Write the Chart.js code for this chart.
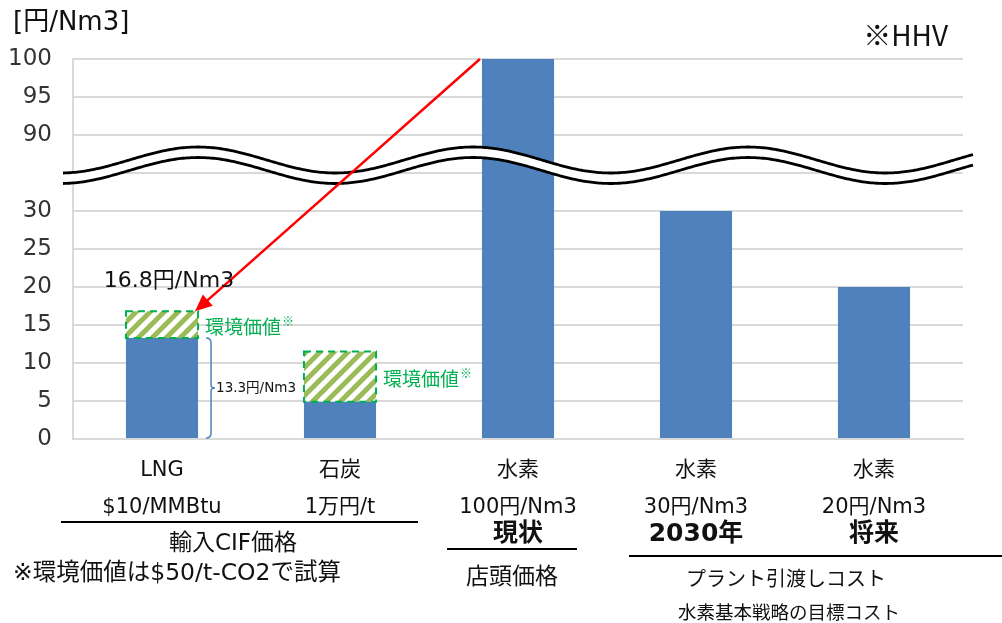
<!DOCTYPE html>
<html>
<head>
<meta charset="utf-8">
<script src="https://cdn.jsdelivr.net/npm/chart.js@4.4.1/dist/chart.umd.min.js"></script>
<style>
  body { margin: 0; background: #fff; }
  #wrap { width: 1002px; height: 623px; }
</style>
</head>
<body>
<div id="wrap"><canvas id="costChart" width="1002" height="623"></canvas></div>
<script>
// data
const categories = ["LNG", "石炭", "水素", "水素", "水素"];
const priceLabels = ["$10/MMBtu", "1万円/t", "100円/Nm3", "30円/Nm3", "20円/Nm3"];
const stageLabels = ["", "", "現状", "2030年", "将来"];
const baseCost = [13.3, 4.9, 100, 30, 20];   // 円/Nm3
const envValue = [3.5, 6.6, 0, 0, 0];        // 環境価値
const yTickStep = 5;

// broken axis: 30..90 is squeezed to two steps
const breakLow = 30, breakHigh = 90, breakGap = 10;
const toAxis = v => v <= breakLow ? v : v >= breakHigh ? v - (breakHigh - breakLow - breakGap) : breakLow + breakGap / 2;
const tickLabel = a => a <= breakLow ? a : a >= breakLow + breakGap ? a + (breakHigh - breakLow - breakGap) : "";

const FONT = '"DejaVu Sans", "Noto Sans CJK JP", sans-serif';
const JP = '"Noto Sans CJK JP", "DejaVu Sans", sans-serif';
const BLUE = "#4f81bd";
const GREEN = "#00b050";

function makeHatch() {
  const c = document.createElement("canvas");
  c.width = c.height = 14;
  const g = c.getContext("2d");
  g.fillStyle = "#fff";
  g.fillRect(0, 0, 14, 14);
  g.strokeStyle = "#9bbb59";
  g.lineWidth = 5;
  g.beginPath();
  g.moveTo(-4, 18); g.lineTo(18, -4);
  g.moveTo(-4, 4); g.lineTo(4, -4);
  g.moveTo(10, 18); g.lineTo(18, 10);
  g.stroke();
  return g.createPattern(c, "repeat");
}

const extras = {
  id: "extras",
  afterDatasetsDraw(chart) {
    const ctx = chart.ctx;
    const area = chart.chartArea;
    const y = chart.scales.y;
    const base = chart.getDatasetMeta(0).data;
    const env = chart.getDatasetMeta(1).data;

    // dashed outline on the env-value boxes
    ctx.save();
    ctx.strokeStyle = GREEN;
    ctx.lineWidth = 2;
    ctx.setLineDash([7, 5]);
    env.forEach((el, i) => {
      if (!envValue[i]) return;
      ctx.strokeRect(el.x - el.width / 2, el.y, el.width, el.base - el.y);
    });
    ctx.restore();

    // axis break wave
    const yc = y.getPixelForValue(breakLow + breakGap / 2);
    const x0 = area.left - 10, x1 = area.right + 10;
    const wave = (x, off) => yc + off - 13 * Math.cos(2 * Math.PI * (x - area.left - 125) / 275);
    ctx.save();
    ctx.beginPath();
    for (let x = x0; x <= x1; x += 2) ctx.lineTo(x, wave(x, -13));
    for (let x = x1; x >= x0; x -= 2) ctx.lineTo(x, wave(x, -2.5));
    ctx.closePath();
    ctx.fillStyle = "#fff";
    ctx.fill();
    ctx.strokeStyle = "#000";
    ctx.lineWidth = 2.8;
    [-13, -2.5].forEach(off => {
      ctx.beginPath();
      for (let x = x0; x <= x1; x += 2) ctx.lineTo(x, wave(x, off));
      ctx.stroke();
    });
    ctx.restore();

    // red arrow from the hydrogen bar to the LNG total
    const from = base[2], to = env[0];
    const sx = from.x - from.width / 2 - 2, sy = from.y;
    const ex = to.x + to.width / 2 - 3, ey = to.y;
    const ang = Math.atan2(ey - sy, ex - sx);
    ctx.save();
    ctx.strokeStyle = "#ff0000";
    ctx.fillStyle = "#ff0000";
    ctx.lineWidth = 2.5;
    ctx.beginPath();
    ctx.moveTo(sx, sy);
    ctx.lineTo(ex - 12 * Math.cos(ang), ey - 12 * Math.sin(ang));
    ctx.stroke();
    ctx.beginPath();
    ctx.moveTo(ex, ey);
    ctx.lineTo(ex - 17 * Math.cos(ang) + 7.5 * Math.sin(ang), ey - 17 * Math.sin(ang) - 7.5 * Math.cos(ang));
    ctx.lineTo(ex - 17 * Math.cos(ang) - 7.5 * Math.sin(ang), ey - 17 * Math.sin(ang) + 7.5 * Math.cos(ang));
    ctx.closePath();
    ctx.fill();
    ctx.restore();

    // brace beside the LNG base cost
    const b = base[0];
    const bx = b.x + b.width / 2 + 8, top = b.y, bot = b.base, mid = (top + bot) / 2;
    ctx.save();
    ctx.strokeStyle = BLUE;
    ctx.lineWidth = 1.5;
    ctx.beginPath();
    ctx.moveTo(bx, top);
    ctx.quadraticCurveTo(bx + 5, top, bx + 5, top + 5);
    ctx.lineTo(bx + 5, mid - 3);
    ctx.quadraticCurveTo(bx + 5, mid, bx + 9, mid);
    ctx.quadraticCurveTo(bx + 5, mid, bx + 5, mid + 3);
    ctx.lineTo(bx + 5, bot - 5);
    ctx.quadraticCurveTo(bx + 5, bot, bx, bot);
    ctx.stroke();
    ctx.fillStyle = "#111";
    ctx.font = "13.5px " + FONT;
    ctx.textBaseline = "middle";
    ctx.textAlign = "left";
    ctx.fillText("13.3円/Nm3", bx + 10, mid + 1);

    // env value labels
    env.forEach((el, i) => {
      if (!envValue[i]) return;
      const lx = el.x + el.width / 2 + 7, ly = (el.y + el.base) / 2 + 2;
      ctx.fillStyle = GREEN;
      ctx.font = "19px " + JP;
      ctx.fillText("環境価値", lx, ly);
      const w = ctx.measureText("環境価値").width;
      ctx.font = "12px " + JP;
      ctx.fillText("※", lx + w + 1, ly - 5);
    });

    // total above LNG
    ctx.fillStyle = "#111";
    ctx.font = "22px " + FONT;
    ctx.textAlign = "center";
    ctx.fillText("16.8円/Nm3", env[0].x + 7, env[0].y - 30);
    ctx.restore();
  },
  afterDraw(chart) {
    const ctx = chart.ctx;
    const area = chart.chartArea;
    const x = chart.scales.x;
    ctx.save();
    ctx.fillStyle = "#111";
    ctx.textBaseline = "middle";

    ctx.font = "26px " + FONT;
    ctx.textAlign = "left";
    ctx.fillText("[円/Nm3]", 13, 23);
    ctx.font = "28px " + JP;
    ctx.textAlign = "right";
    ctx.fillText("※HHV", area.right - 15, 35);

    // bold stage labels
    ctx.textAlign = "center";
    ctx.font = "bold 25px " + FONT;
    stageLabels.forEach((s, i) => { if (s) ctx.fillText(s, x.getPixelForValue(i), area.bottom + 95); });

    // group rules and captions
    ctx.strokeStyle = "#000";
    ctx.lineWidth = 2;
    const rule = (a, b, yy) => { ctx.beginPath(); ctx.moveTo(a, yy); ctx.lineTo(b, yy); ctx.stroke(); };
    rule(61, 418, area.bottom + 83);
    rule(447, 577, area.bottom + 110);
    rule(629, 1002, area.bottom + 117);

    ctx.font = "23px " + FONT;
    ctx.fillText("輸入CIF価格", 233, area.bottom + 105);
    ctx.fillText("店頭価格", 512, area.bottom + 139);
    ctx.font = "20px " + JP;
    ctx.fillText("プラント引渡しコスト", 786, area.bottom + 139);
    ctx.font = "18.5px " + JP;
    ctx.fillText("水素基本戦略の目標コスト", 789, area.bottom + 173);
    ctx.font = "23.5px " + FONT;
    ctx.textAlign = "left";
    ctx.fillText("※環境価値は$50/t-CO2で試算", 13, area.bottom + 135);
    ctx.restore();
  }
};

new Chart(document.getElementById("costChart").getContext("2d"), {
  type: "bar",
  data: {
    labels: categories.map((c, i) => [c, priceLabels[i]]),
    datasets: [
      { label: "コスト", data: baseCost.map(toAxis), backgroundColor: BLUE, borderWidth: 0 },
      { label: "環境価値", data: envValue, backgroundColor: makeHatch(), borderWidth: 0 }
    ]
  },
  options: {
    responsive: false,
    animation: false,
    events: [],
    layout: { padding: { top: 59, right: 39, left: 0, bottom: 0 } },
    plugins: { legend: { display: false }, tooltip: { enabled: false } },
    datasets: { bar: { categoryPercentage: 1, barPercentage: 0.405 } },
    scales: {
      x: {
        stacked: true,
        grid: { display: false, drawTicks: false },
        border: { color: "#d9d9d9", width: 2 },
        ticks: { color: "#111", font: { family: FONT, size: 21, lineHeight: 1.76 }, padding: 13, maxRotation: 0, autoSkip: false },
        afterFit: s => { s.height = 184; }
      },
      y: {
        stacked: true,
        min: 0,
        max: toAxis(100),
        grid: { color: "#d9d9d9", lineWidth: 2, drawTicks: false },
        border: { color: "#d9d9d9", width: 2 },
        ticks: { stepSize: yTickStep, color: "#333", font: { family: FONT, size: 23 }, padding: 21, callback: v => tickLabel(v) },
        afterFit: s => { s.width = 73; }
      }
    }
  },
  plugins: [extras]
});
</script>
</body>
</html>
